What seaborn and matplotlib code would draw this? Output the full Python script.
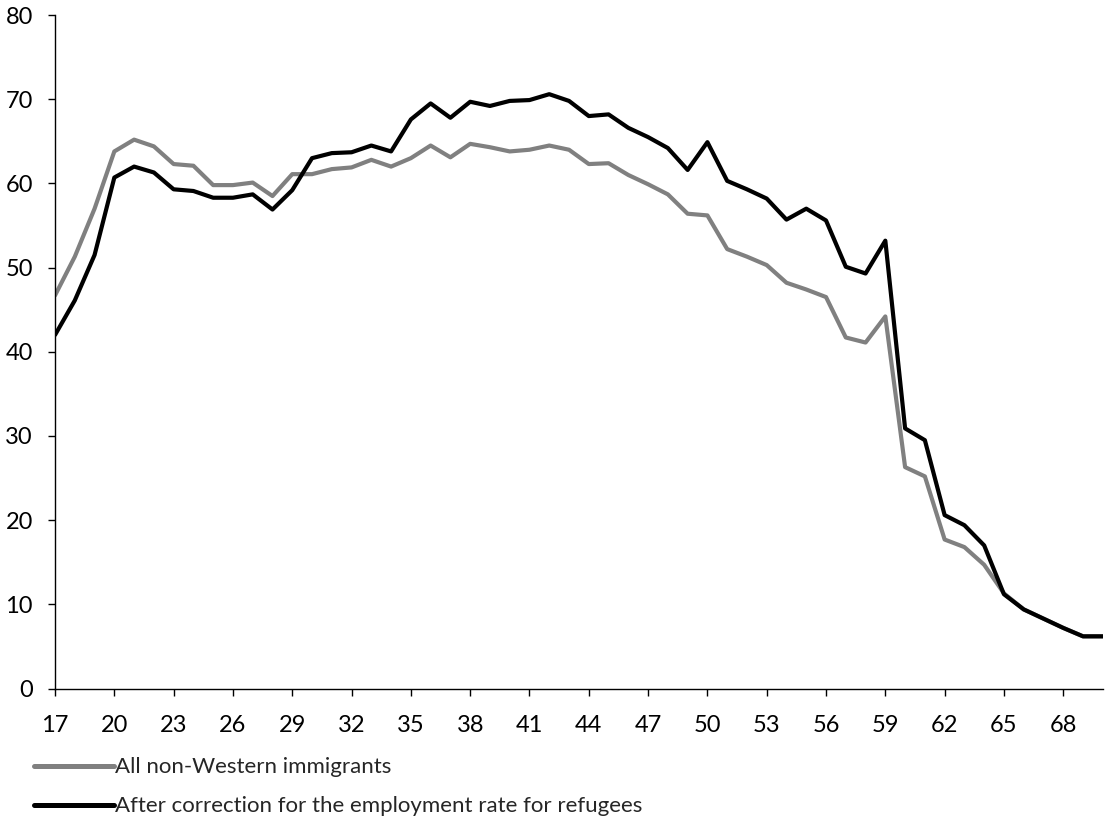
import pandas as pd
import matplotlib
matplotlib.use("Agg")
import matplotlib.pyplot as plt
import seaborn as sns

# ages 17..70
ages = list(range(17, 71))

# All non-Western immigrants
all_nonwestern = [46.7, 51.3, 57.0, 63.8, 65.2, 64.4, 62.3, 62.1, 59.8, 59.8,
                  60.1, 58.5, 61.1, 61.1, 61.7, 61.9, 62.8, 62.0, 63.0, 64.5,
                  63.1, 64.7, 64.3, 63.8, 64.0, 64.5, 64.0, 62.3, 62.4, 61.0,
                  59.9, 58.7, 56.4, 56.2, 52.2, 51.3, 50.3, 48.2, 47.4, 46.5,
                  41.7, 41.1, 44.2, 26.3, 25.2, 17.7, 16.8, 14.7, 11.3, 9.4,
                  8.3, 7.2, 6.2, 6.2]

# After correction for the employment rate for refugees
corrected = [42.0, 46.1, 51.5, 60.7, 62.0, 61.3, 59.3, 59.1, 58.3, 58.3,
             58.7, 56.9, 59.2, 63.0, 63.6, 63.7, 64.5, 63.8, 67.6, 69.5,
             67.8, 69.7, 69.2, 69.8, 69.9, 70.6, 69.8, 68.0, 68.2, 66.6,
             65.5, 64.2, 61.6, 64.9, 60.3, 59.3, 58.2, 55.7, 57.0, 55.6,
             50.1, 49.3, 53.2, 30.9, 29.5, 20.6, 19.4, 17.0, 11.2, 9.4,
             8.3, 7.2, 6.2, 6.2]

series_names = ["All non-Western immigrants",
                "After correction for the employment rate for refugees"]

df = pd.concat([
    pd.DataFrame({"age": ages, "value": all_nonwestern, "series": series_names[0]}),
    pd.DataFrame({"age": ages, "value": corrected, "series": series_names[1]}),
])

sns.set_style("white")
plt.rcParams['font.family'] = ['Lato', 'DejaVu Sans']

fig = plt.figure(figsize=(11.05, 8.36), dpi=100)
ax = fig.add_axes([0.0498, 0.1764, 0.9482, 0.8056])

sns.lineplot(data=df, x="age", y="value", hue="series", hue_order=series_names,
             palette=["#808080", "#000000"], linewidth=3.0, ax=ax, legend=False)

ax.set_xlim(17, 70)
ax.set_ylim(0, 80)
ax.set_xticks(list(range(17, 70, 3)))
ax.set_yticks(list(range(0, 81, 10)))
ax.set_xlabel("")
ax.set_ylabel("")

for s in ["top", "right"]:
    ax.spines[s].set_visible(False)
for s in ["left", "bottom"]:
    ax.spines[s].set_color("#000000")
    ax.spines[s].set_linewidth(1.0)

ax.tick_params(axis="both", direction="out", length=5, width=1, color="#000000",
               labelsize=17, labelcolor="#000000")
ax.tick_params(axis="x", pad=14)
ax.tick_params(axis="y", pad=11)
ax.tick_params(bottom=True, left=True)

handles = [plt.Line2D([], [], color="#808080", linewidth=3.6),
           plt.Line2D([], [], color="#000000", linewidth=3.6)]
fig.legend(handles, series_names, loc="upper left", bbox_to_anchor=(0.031, 0.094),
           frameon=False, fontsize=16, handlelength=3.6, handletextpad=0.05,
           labelspacing=0.85, borderpad=0, borderaxespad=0)

fig.savefig("out.png", dpi=100)
